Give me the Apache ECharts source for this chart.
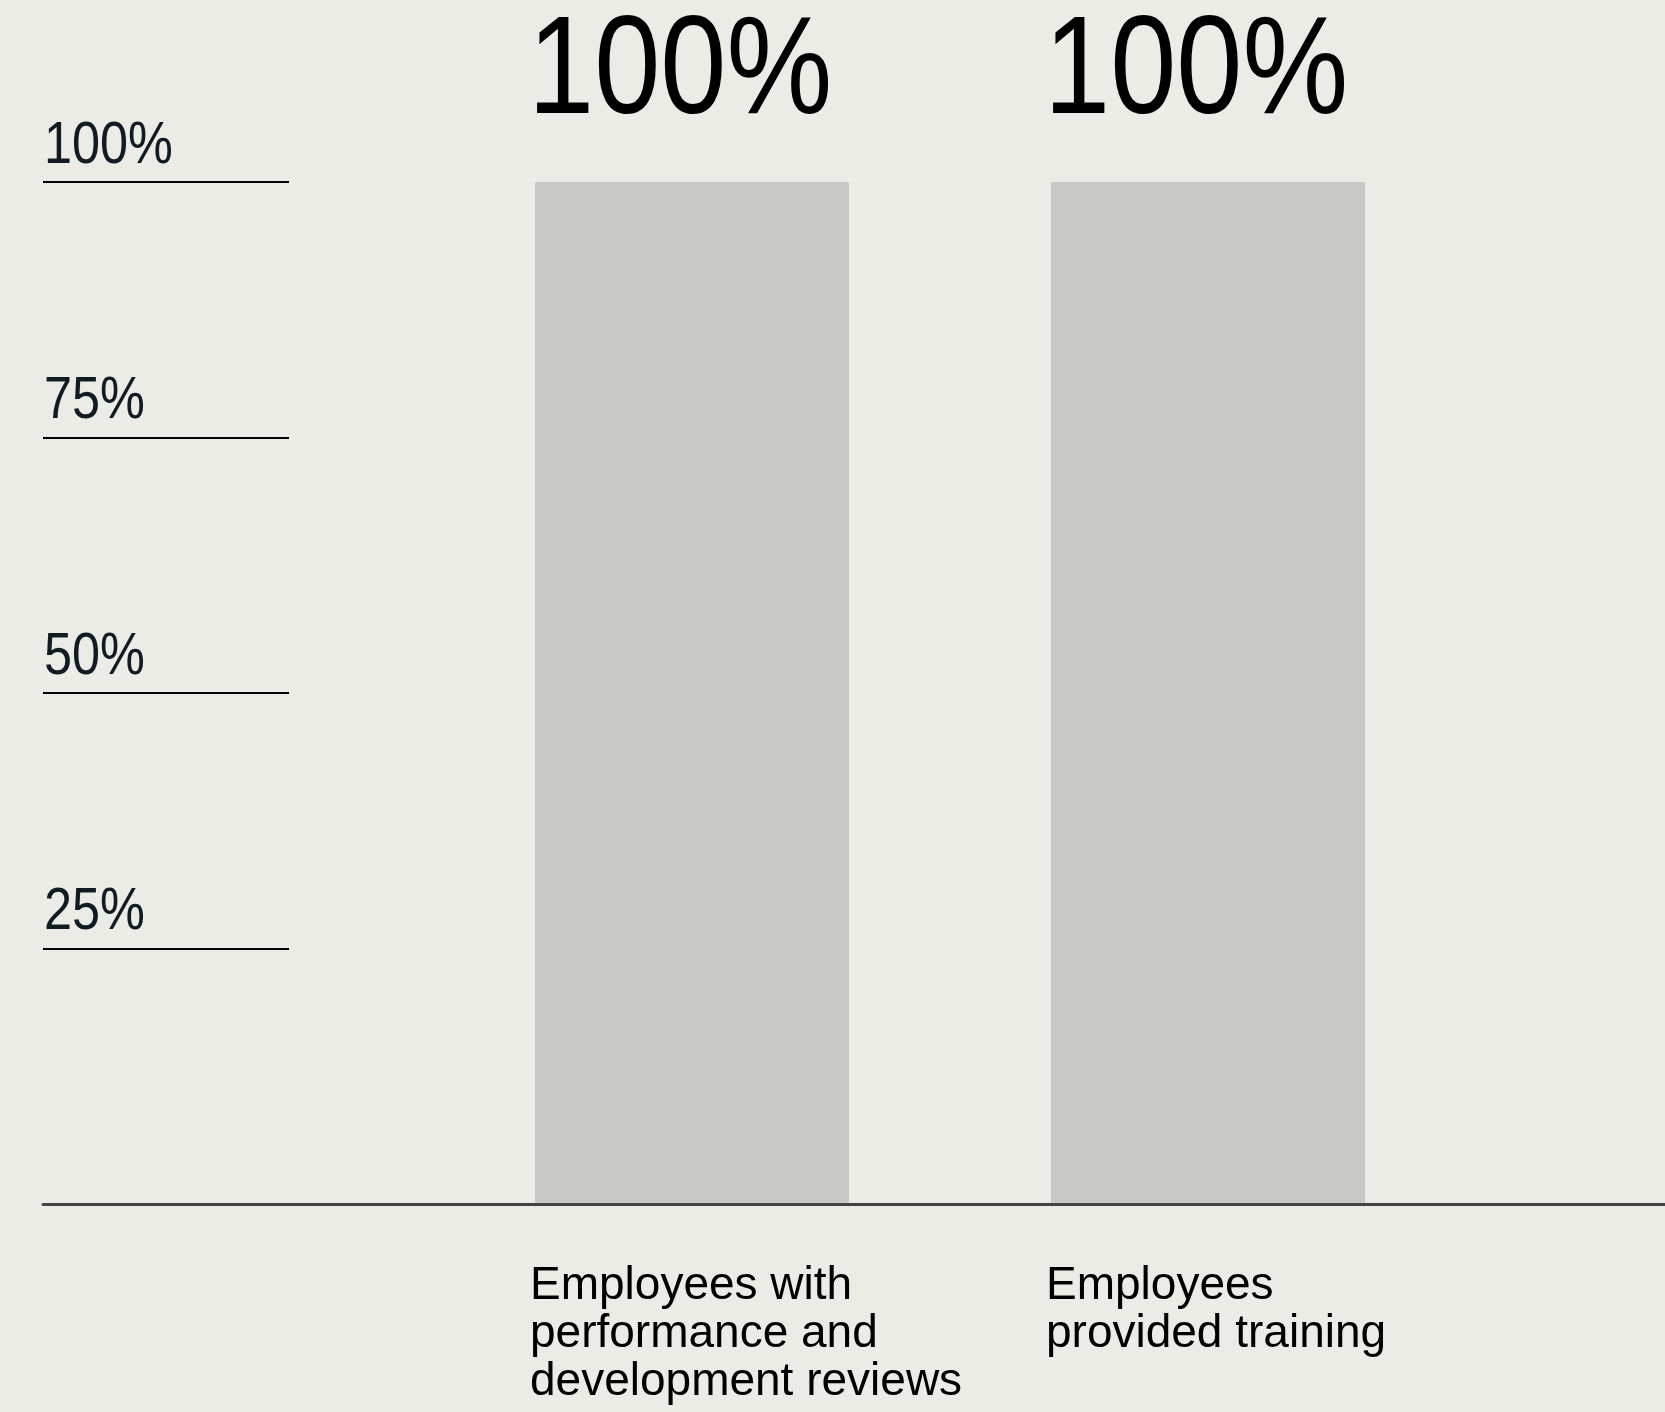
<!DOCTYPE html>
<html>
<head>
<meta charset="utf-8">
<script src="https://cdn.jsdelivr.net/npm/echarts@6/dist/echarts.min.js"></script>
<style>
  html, body { margin: 0; padding: 0; background: #ecece6; }
  #chart { width: 1665px; height: 1412px; }
</style>
</head>
<body>
<div id="chart"></div>
<script>
// chart data
const categories = [
  'Employees with\nperformance and\ndevelopment reviews',
  'Employees\nprovided training'
];
const values = [100, 100];
const yTicks = [25, 50, 75, 100];

const sans = '"Liberation Sans", Arial, sans-serif';
const BAR_W = 314;

const chart = echarts.init(document.getElementById('chart'));

// condensed-looking text: the reference uses a narrow grotesque, so squeeze Liberation Sans
function narrowText(x, y, text, size, squeeze, color) {
  return {
    type: 'text',
    x: x, y: y,
    scaleX: squeeze,
    style: {
      text: text,
      font: size + 'px ' + sans,
      lineHeight: size,
      fill: color,
      align: 'left',
      verticalAlign: 'bottom'
    }
  };
}

const option = {
  backgroundColor: '#ecece6',
  animation: false,
  grid: [
    // baseline across the whole width
    { left: 43, right: 0, top: 182, bottom: 208 },
    // short tick lines with labels
    { left: 43, width: 246, top: 182, bottom: 208 },
    // the bars
    { left: 434, width: 1032, top: 182, bottom: 208 }
  ],
  xAxis: [
    {
      gridIndex: 0, type: 'category', data: [''], z: 5,
      axisLine: { show: true, lineStyle: { color: '#444444', width: 3 } },
      axisTick: { show: false }, axisLabel: { show: false }
    },
    {
      gridIndex: 1, type: 'value', min: 0, max: 1, show: false
    },
    {
      gridIndex: 2, type: 'category', data: categories,
      axisLine: { show: false }, axisTick: { show: false },
      axisLabel: {
        interval: 0,
        margin: 58,
        formatter: v => v.split('\n').map(l => '{a|' + l + '}').join('\n'),
        rich: {
          a: {
            width: 324, align: 'left',
            fontFamily: sans, fontSize: 46, lineHeight: 48, color: '#000000'
          }
        }
      }
    }
  ],
  yAxis: [
    { gridIndex: 0, type: 'value', min: 0, max: 100, show: false },
    {
      gridIndex: 1, type: 'value', min: 0, max: 100, interval: 25,
      axisLine: { show: false }, axisTick: { show: false },
      axisLabel: { show: false },
      splitLine: { show: true, lineStyle: { color: '#000000', width: 2 } }
    },
    { gridIndex: 2, type: 'value', min: 0, max: 100, show: false }
  ],
  series: [
    {
      type: 'bar',
      xAxisIndex: 2, yAxisIndex: 2,
      data: values,
      barWidth: BAR_W,
      itemStyle: { color: '#c8c8c6' }
    },
    {
      // value labels above the bars
      type: 'custom',
      xAxisIndex: 2, yAxisIndex: 2,
      data: values.map((v, i) => [i, v]),
      renderItem: (params, api) => {
        const pt = api.coord([api.value(0), api.value(1)]);
        return narrowText(pt[0] - BAR_W / 2 - 7, pt[1] - 38,
          api.value(1) + '%', 140, 0.85, '#000000');
      }
    },
    {
      // tick labels sitting on the short lines
      type: 'custom',
      xAxisIndex: 1, yAxisIndex: 1,
      data: yTicks.map(t => [0, t]),
      renderItem: (params, api) => {
        const pt = api.coord([0, api.value(1)]);
        return narrowText(pt[0] + 1, pt[1] - 6,
          api.value(1) + '%', 60, 0.84, '#111b24');
      }
    }
  ]
};

chart.setOption(option);
</script>
</body>
</html>
